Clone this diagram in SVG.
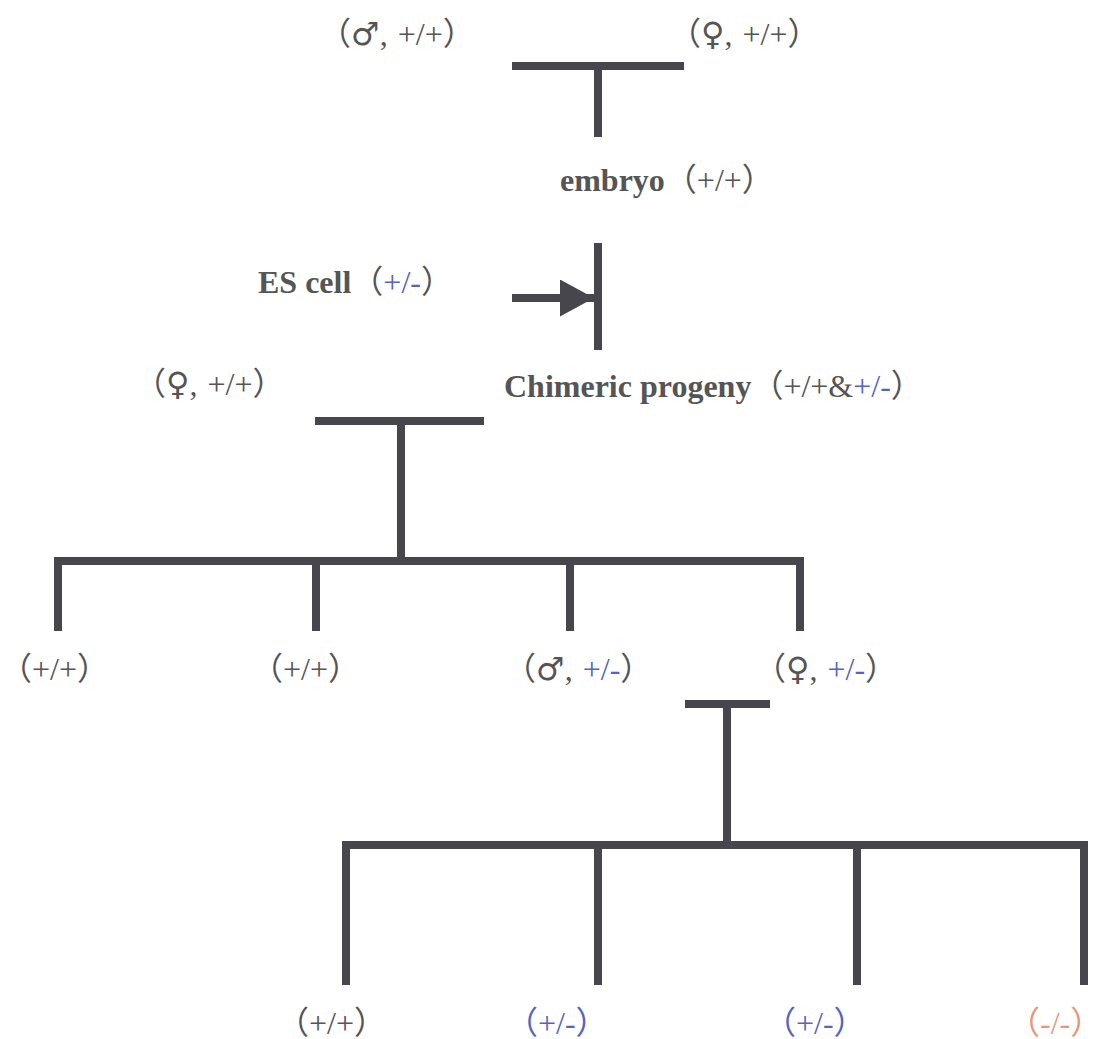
<svg xmlns="http://www.w3.org/2000/svg" width="1102" height="1039" viewBox="0 0 1102 1039">
<style>
.t{font-family:"Liberation Serif","Noto Sans CJK SC",serif;fill:#555;font-size:32px}
.b{font-weight:bold;font-size:32px}
.s{font-family:"DejaVu Sans",sans-serif;font-size:32px}
.bl{fill:#5563c4}
.or{fill:#e8967a}
.ln{stroke:#46464c;stroke-width:8;fill:none;stroke-linecap:butt}
</style>
<defs>
<marker id="ah" viewBox="0 0 34 37" refX="34" refY="18.5" markerWidth="34" markerHeight="37" markerUnits="userSpaceOnUse" orient="auto">
<path d="M0,0 L34,18.5 L0,37 Z" fill="#46464c"/>
</marker>
</defs>
<g id="connectors">
<path class="ln" d="M512,66 H684 M598,66 V137"/>
<path class="ln" d="M598,243 V350"/>
<path class="ln" d="M512,298 H594" marker-end="url(#ah)"/>
<path class="ln" d="M315,421 H484 M401,421 V561"/>
<path class="ln" d="M58,631 V561 H800 V631 M316,561 V631 M570,561 V631"/>
<path class="ln" d="M685,704 H770 M727,704 V845"/>
<path class="ln" d="M346,985 V845 H1084 V985 M598,845 V985 M857,845 V985"/>
</g>
<g id="n-male-top"><text class="t" x="319" y="45">（<tspan class="s">♂</tspan>, <tspan dx="2">+/+</tspan>）</text></g>
<g id="n-female-top"><text class="t" x="669" y="45">（<tspan class="s">♀</tspan>, <tspan dx="2">+/+</tspan>）</text></g>
<g id="n-embryo"><text class="t" x="560" y="191"><tspan class="b">embryo</tspan>（+/+）</text></g>
<g id="n-es"><text class="t" x="258" y="293"><tspan class="b">ES cell</tspan>（<tspan class="bl">+/-</tspan>）</text></g>
<g id="n-female-2"><text class="t" x="134" y="395">（<tspan class="s">♀</tspan>, <tspan dx="2">+/+</tspan>）</text></g>
<g id="n-chimeric"><text class="t" x="504" y="397"><tspan class="b">Chimeric progeny</tspan>（+/+&amp;<tspan class="bl">+/-</tspan>）</text></g>
<g id="n-f1-1"><text class="t" x="0" y="680">（+/+）</text></g>
<g id="n-f1-2"><text class="t" x="251" y="680">（+/+）</text></g>
<g id="n-f1-3"><text class="t" x="504" y="680">（<tspan class="s">♂</tspan>, <tspan dx="2" class="bl">+/-</tspan>）</text></g>
<g id="n-f1-4"><text class="t" x="754" y="680">（<tspan class="s">♀</tspan>, <tspan dx="2" class="bl">+/-</tspan>）</text></g>
<g id="n-f2-1"><text class="t" x="277" y="1034">（+/+）</text></g>
<g id="n-f2-2"><text class="t bl" x="506" y="1034">（+/-）</text></g>
<g id="n-f2-3"><text class="t bl" x="764" y="1034">（+/-）</text></g>
<g id="n-f2-4"><text class="t or" x="1008" y="1034">（-/-）</text></g>
</svg>
